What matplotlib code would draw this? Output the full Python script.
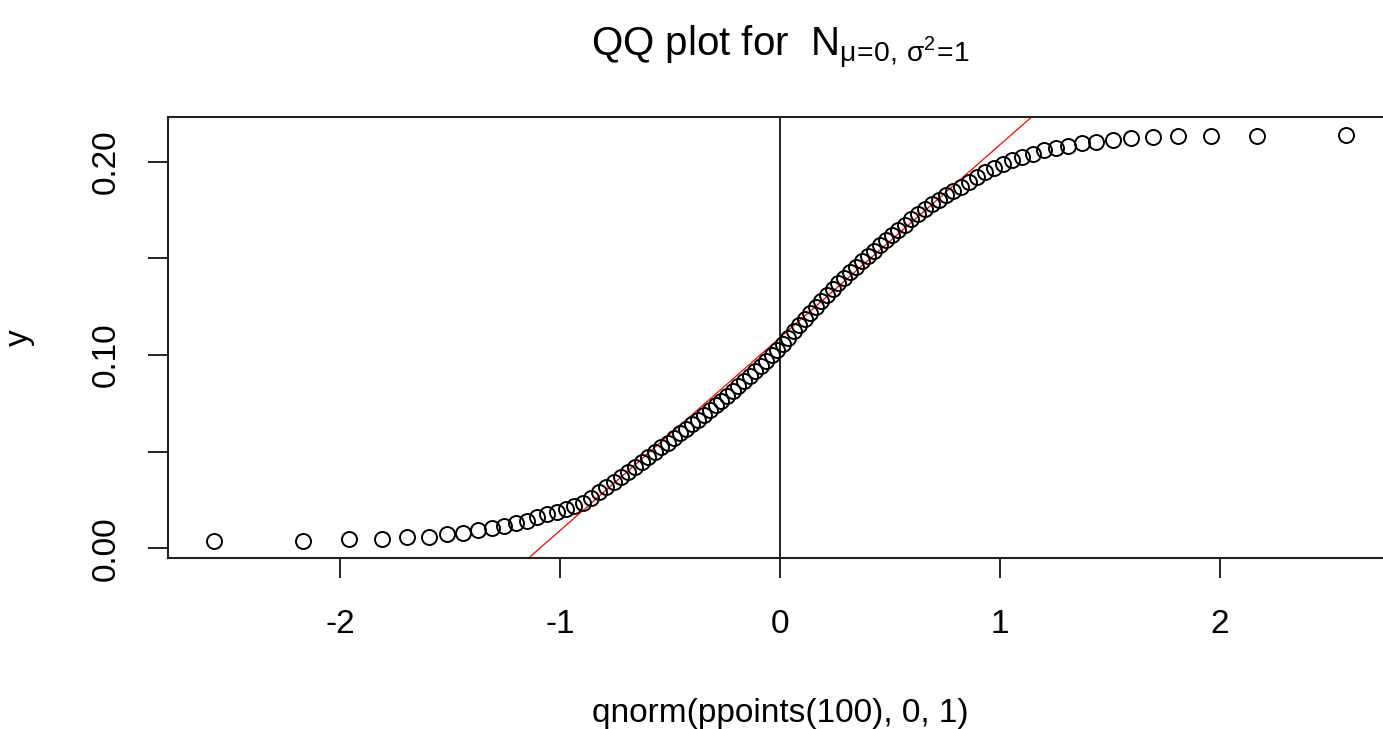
import numpy as np
import matplotlib
matplotlib.use("Agg")
import matplotlib.pyplot as plt
from matplotlib.ticker import FuncFormatter

# theoretical quantiles, qnorm(ppoints(100), 0, 1)
x_theo = [-2.576, -2.170, -1.960, -1.812, -1.695, -1.598, -1.514, -1.440, -1.372, -1.311,
          -1.254, -1.200, -1.150, -1.103, -1.058, -1.015, -0.974, -0.935, -0.896, -0.860,
          -0.824, -0.789, -0.755, -0.722, -0.690, -0.659, -0.628, -0.598, -0.568, -0.539,
          -0.510, -0.482, -0.454, -0.426, -0.399, -0.372, -0.345, -0.319, -0.292, -0.266,
          -0.240, -0.215, -0.189, -0.164, -0.138, -0.113, -0.088, -0.063, -0.038, -0.013,
          0.013, 0.038, 0.063, 0.088, 0.113, 0.138, 0.164, 0.189, 0.215, 0.240,
          0.266, 0.292, 0.319, 0.345, 0.372, 0.399, 0.426, 0.454, 0.482, 0.510,
          0.539, 0.568, 0.598, 0.628, 0.659, 0.690, 0.722, 0.755, 0.789, 0.824,
          0.860, 0.896, 0.935, 0.974, 1.015, 1.058, 1.103, 1.150, 1.200, 1.254,
          1.311, 1.372, 1.440, 1.514, 1.598, 1.695, 1.812, 1.960, 2.170, 2.576]

# sorted sample values
y_sample = [0.0036, 0.0037, 0.0047, 0.0048, 0.0056, 0.0058, 0.0072, 0.0080, 0.0092, 0.0103,
            0.0116, 0.0130, 0.0143, 0.0160, 0.0175, 0.0188, 0.0203, 0.0218, 0.0235, 0.0262,
            0.0289, 0.0316, 0.0343, 0.0370, 0.0397, 0.0423, 0.0448, 0.0473, 0.0498, 0.0522,
            0.0546, 0.0570, 0.0594, 0.0618, 0.0642, 0.0666, 0.0690, 0.0714, 0.0739, 0.0764,
            0.0789, 0.0814, 0.0840, 0.0866, 0.0892, 0.0918, 0.0944, 0.0971, 0.0998, 0.1026,
            0.1056, 0.1088, 0.1122, 0.1155, 0.1187, 0.1218, 0.1250, 0.1282, 0.1313, 0.1343,
            0.1370, 0.1401, 0.1427, 0.1455, 0.1484, 0.1512, 0.1539, 0.1567, 0.1595, 0.1621,
            0.1648, 0.1675, 0.1703, 0.1729, 0.1756, 0.1781, 0.1803, 0.1826, 0.1847, 0.1870,
            0.1895, 0.1920, 0.1945, 0.1970, 0.1990, 0.2010, 0.2025, 0.2040, 0.2060, 0.2072,
            0.2080, 0.2095, 0.2103, 0.2110, 0.2124, 0.2130, 0.2133, 0.2134, 0.2135, 0.2136]

quartiles_theo = [-0.6745, 0.6745]
x_ticks = [-2, -1, 0, 1, 2]
y_ticks = [0.00, 0.05, 0.10, 0.15, 0.20]
y_labelled = [0.00, 0.10, 0.20]

plt.rcParams['font.family'] = ['Liberation Sans', 'DejaVu Sans']
plt.rcParams['mathtext.fontset'] = 'custom'
plt.rcParams['mathtext.rm'] = 'Liberation Sans'
plt.rcParams['mathtext.it'] = 'Liberation Sans'

fig = plt.figure(figsize=(13.83, 7.29), dpi=100)
W, H = 1383, 729
left, right, top, bottom = 168.3, 1391.5, 117.3, 558.3
ax = fig.add_axes([left / W, 1 - bottom / H, (right - left) / W, (bottom - top) / H])

# qqline : droite passant par les quartiles
yq = np.quantile(y_sample, [0.25, 0.75])
slope = (yq[1] - yq[0]) / (quartiles_theo[1] - quartiles_theo[0])
intercept = yq[0] - slope * quartiles_theo[0]

ax.plot(x_theo, y_sample, 'o', mfc='none', mec='black', ms=10.8, mew=1.4, zorder=3)
ax.axline((0, intercept), slope=slope, color='red', lw=0.9, zorder=2)
ax.axvline(0, color='black', lw=1.2, zorder=1)

ax.set_xlim(-2.782, 2.782)
ax.set_ylim(-0.0052, 0.2230)
ax.set_xticks(x_ticks)
ax.set_yticks(y_ticks)
ax.xaxis.set_major_formatter(FuncFormatter(lambda v, p: f"{v:g}"))
ax.yaxis.set_major_formatter(FuncFormatter(
    lambda v, p: f"{v:.2f}" if any(abs(v - t) < 1e-9 for t in y_labelled) else ""))
for lab in ax.get_yticklabels():
    lab.set_rotation(90)
    lab.set_va('center')

ax.tick_params(direction='out', length=14.5, width=1.4, labelsize=24, color='#222222')
ax.tick_params(axis='x', pad=22)
ax.tick_params(axis='y', pad=19)
for s in ax.spines.values():
    s.set_linewidth(1.5)
    s.set_color('#222222')

ax.set_xlabel('qnorm(ppoints(100), 0, 1)', fontsize=24, labelpad=42)
ax.set_ylabel('y', fontsize=24, labelpad=40)
ax.set_title(r'QQ plot for  $\mathregular{N_{\mu\!=\!0,\,\sigma^2\!=\!1}}$', fontsize=29, pad=44)

fig.savefig('out.png', dpi=100)
